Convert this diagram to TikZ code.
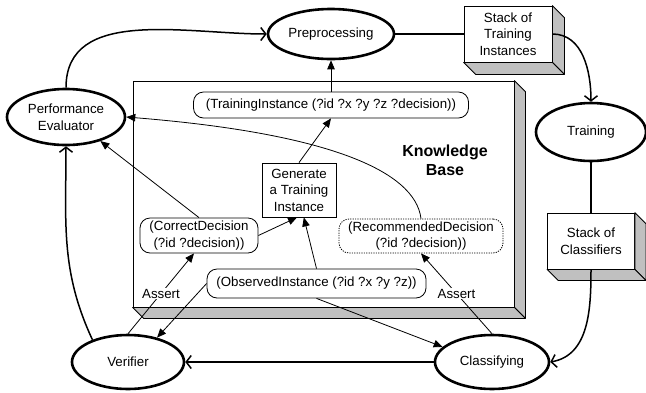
\documentclass[tikz,border=0pt]{standalone}
\usepackage{fontspec}
\setmainfont{Liberation Sans}
\usetikzlibrary{shapes.geometric,arrows.meta,calc}
\definecolor{facegray}{HTML}{C0C0C0}
\begin{document}
\begin{tikzpicture}[x=1pt,y=-1pt,
  font=\fontsize{13.3}{16.5}\selectfont,
  proc/.style={ellipse,draw,line width=2.6pt,inner sep=0pt,align=center},
  frontbox/.style={rectangle,draw,line width=0.8pt,fill=white,inner sep=0pt,align=center},
  fact/.style={rectangle,rounded corners=10pt,draw,line width=0.8pt,fill=white,inner sep=0pt,align=center},
  flow/.style={line width=1.5pt,-{Straight Barb[length=5pt,width=13pt]}},
  plainline/.style={line width=1.5pt},
  link/.style={line width=0.8pt,-{Triangle[length=9pt,width=7.5pt]}},
  side/.style={fill=facegray,draw,line width=0.8pt,line join=round},
  lbl/.style={fill=white,inner sep=1pt},
]
\useasboundingbox (0,0) rectangle (646,392);

% Knowledge base box
\node[frontbox,minimum width=381pt,minimum height=226pt] (kb) at (323.5,194) {};
\draw[side] (kb.north east) -- ++(11,11) -- ($(kb.south east)+(11,11)$) -- (kb.south east) -- cycle;
\draw[side] (kb.south west) -- (kb.south east) -- ++(11,11) -- ($(kb.south west)+(11,11)$) -- cycle;
\node[font=\fontsize{16}{19}\selectfont\bfseries,align=center] (kbl) at (445,160) {Knowledge\\Base};

% Stack boxes
\node[frontbox,minimum width=88pt,minimum height=56pt] (sti) at (508,34) {Stack of\\Training\\Instances};
\draw[side] (sti.north east) -- ++(12,12) -- ($(sti.south east)+(12,12)$) -- (sti.south east) -- cycle;
\draw[side] (sti.south west) -- (sti.south east) -- ++(12,12) -- ($(sti.south west)+(12,12)$) -- cycle;

\node[frontbox,minimum width=87pt,minimum height=56pt] (scl) at (591,241) {Stack of\\Classifiers};
\draw[side] (scl.north east) -- ++(11,11) -- ($(scl.south east)+(11,11)$) -- (scl.south east) -- cycle;
\draw[side] (scl.south west) -- (scl.south east) -- ++(11,11) -- ($(scl.south west)+(11,11)$) -- cycle;

% Process ellipses
\node[proc,minimum width=126pt,minimum height=50pt] (pp) at (331,34) {Preprocessing};
\node[proc,minimum width=110pt,minimum height=58pt] (tr) at (591,132) {Training};
\node[proc,minimum width=114pt,minimum height=54pt] (cls) at (492,362) {Classifying};
\node[proc,minimum width=112pt,minimum height=54pt] (ver) at (128,362) {Verifier};
\node[proc,minimum width=118pt,minimum height=56pt] (pe) at (66,117) {Performance\\Evaluator};

% Facts inside knowledge base
\node[fact,minimum width=275pt,minimum height=26pt] (ti) at (331,105) {(TrainingInstance (?id ?x ?y ?z ?decision))};
\node[frontbox,minimum width=74pt,minimum height=54pt] (gen) at (299,190) {Generate\\a Training\\Instance};
\node[fact,minimum width=118pt,minimum height=35pt] (cd) at (199,235.5) {(CorrectDecision\\(?id ?decision))};
\node[fact,dash pattern=on 1.2pt off 1.2pt,minimum width=164pt,minimum height=34pt] (rd) at (421,236) {(RecommendedDecision\\(?id ?decision))};
\node[fact,minimum width=219pt,minimum height=29pt] (oi) at (316.5,283.5) {(ObservedInstance (?id ?x ?y ?z))};

% Main flow
\draw[flow] (pe.north) to[out=90,in=180] (pp.west);
\draw[plainline] (pp.east) -- (sti.west);
\draw[flow] (sti.east) to[out=0,in=90] (tr.north);
\draw[plainline] (tr.south) -- (scl.north);
\draw[flow] (scl.south) to[out=-90,in=10] (cls.east);
\draw[flow] (cls.west) -- (ver.east);
\draw[flow] (ver.148) to[out=115,in=-90] (pe.south);

% Knowledge links
\draw[link] (ti.north) -- (pp.south);
\draw[link] (gen.north) -- (ti.south);
\draw[link] (cd.east) -- ($(gen.south)+(-2,0)$);
\draw[link] (oi.north) -- (gen.-80);
\draw[link] (cd.north) -- (pe.-35);
\draw[link] (rd.north) .. controls (415,170) and (325,133) .. (pe.east);
\draw[link] (oi.west) -- (ver.40);
\draw[link] (oi.south) -- (cls.163);
\draw[link] (ver.north) -- node[lbl,pos=0.5] {Assert} ($(cd.south)+(-5,0)$);
\draw[link] (cls.north) -- node[lbl,pos=0.5] {Assert} (rd.south);
\end{tikzpicture}
\end{document}
